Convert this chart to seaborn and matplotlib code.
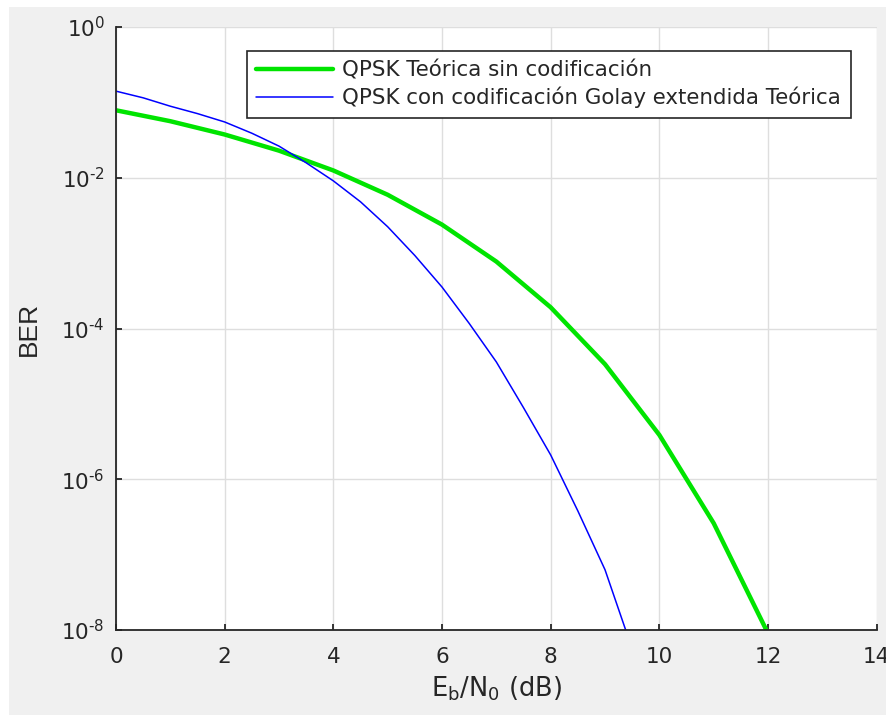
import numpy as np
import pandas as pd
import matplotlib
matplotlib.use("Agg")
import matplotlib.pyplot as plt
import matplotlib.ticker as mticker
import seaborn as sns
from matplotlib.patches import Rectangle

# valores
ebno_qpsk = [0, 1, 2, 3, 4, 5, 6, 7, 8, 9, 10, 11, 12]
ber_qpsk = [7.86e-2, 5.63e-2, 3.75e-2, 2.29e-2, 1.25e-2, 5.95e-3, 2.39e-3,
            7.73e-4, 1.91e-4, 3.36e-5, 3.87e-6, 2.61e-7, 9.0e-9]

ebno_golay = [0, 0.5, 1, 1.5, 2, 2.5, 3, 3.5, 4, 4.5, 5, 5.5, 6, 6.5, 7,
              7.5, 8, 8.5, 9, 9.5]
ber_golay = [1.41e-1, 1.15e-1, 8.9e-2, 7.1e-2, 5.5e-2, 3.9e-2, 2.63e-2,
             1.58e-2, 9.1e-3, 4.8e-3, 2.24e-3, 9.3e-4, 3.55e-4, 1.17e-4,
             3.6e-5, 8.9e-6, 2.1e-6, 3.8e-7, 6.3e-8, 5.6e-9]

labels = ["QPSK Teórica sin codificación",
          "QPSK con codificación Golay extendida Teórica"]

sns.set_theme(style="ticks")
plt.rcParams['font.family'] = ['DejaVu Sans']
plt.rcParams['mathtext.fontset'] = 'dejavusans'
plt.rcParams['mathtext.default'] = 'regular'

df_q = pd.DataFrame({'ebno': ebno_qpsk, 'ber': ber_qpsk})
df_g = pd.DataFrame({'ebno': ebno_golay, 'ber': ber_golay})

fig = plt.figure(figsize=(8.86, 7.15), dpi=100, facecolor='white')
# fondo gris tipo MATLAB (con franja blanca arriba/izquierda como la captura)
fig.patches.append(Rectangle((9 / 886, 0), 1, 1 - 7 / 715, transform=fig.transFigure,
                             facecolor='#f0f0f0', edgecolor='none', zorder=-10))
ax = fig.add_axes([0.1309, 0.1189, 0.8586, 0.8433])
ax.set_facecolor('white')

sns.lineplot(data=df_q, x='ebno', y='ber', ax=ax, color='#00e400', lw=3.2,
             label=labels[0])
sns.lineplot(data=df_g, x='ebno', y='ber', ax=ax, color='#0000ff', lw=1.1,
             label=labels[1])

ax.set_yscale('log')
ax.set_xlim(0, 14)
ax.set_ylim(1e-8, 1)
ax.set_xticks(range(0, 15, 2))
ax.set_yticks([1e-8, 1e-6, 1e-4, 1e-2, 1])
ax.yaxis.set_minor_locator(mticker.NullLocator())
ax.yaxis.set_major_formatter(mticker.FuncFormatter(
    lambda v, p: r'$10^{\text{%d}}$' % round(np.log10(v))))
ax.grid(True, color='#dedede', lw=1.0)
ax.set_axisbelow(True)

for s in ['top', 'right']:
    ax.spines[s].set_visible(False)
for s in ['left', 'bottom']:
    ax.spines[s].set_color('#262626')
    ax.spines[s].set_linewidth(1.3)

ax.tick_params(axis='both', direction='in', length=4, width=1.3, color='#262626',
               labelsize=15.5, labelcolor='#262626')
ax.tick_params(axis='x', pad=12)
ax.tick_params(axis='y', pad=8)

ax.set_xlabel('E$_b$/N$_0$ (dB)', fontsize=18.5, color='#262626', labelpad=6)
ax.set_ylabel('BER', fontsize=19, color='#262626', labelpad=15,
              family=['Liberation Sans', 'DejaVu Sans'])

leg = ax.legend(loc='upper right', bbox_to_anchor=(0.966, 0.9607), borderaxespad=0,
                fontsize=15.4, frameon=True, fancybox=False, framealpha=1,
                edgecolor='#262626', handlelength=3.6, handletextpad=0.42,
                borderpad=0.45, labelspacing=0.3)
leg.get_frame().set_linewidth(1.2)
for t in leg.get_texts():
    t.set_color('#262626')

fig.savefig('out.png', dpi=100, facecolor=fig.get_facecolor())
